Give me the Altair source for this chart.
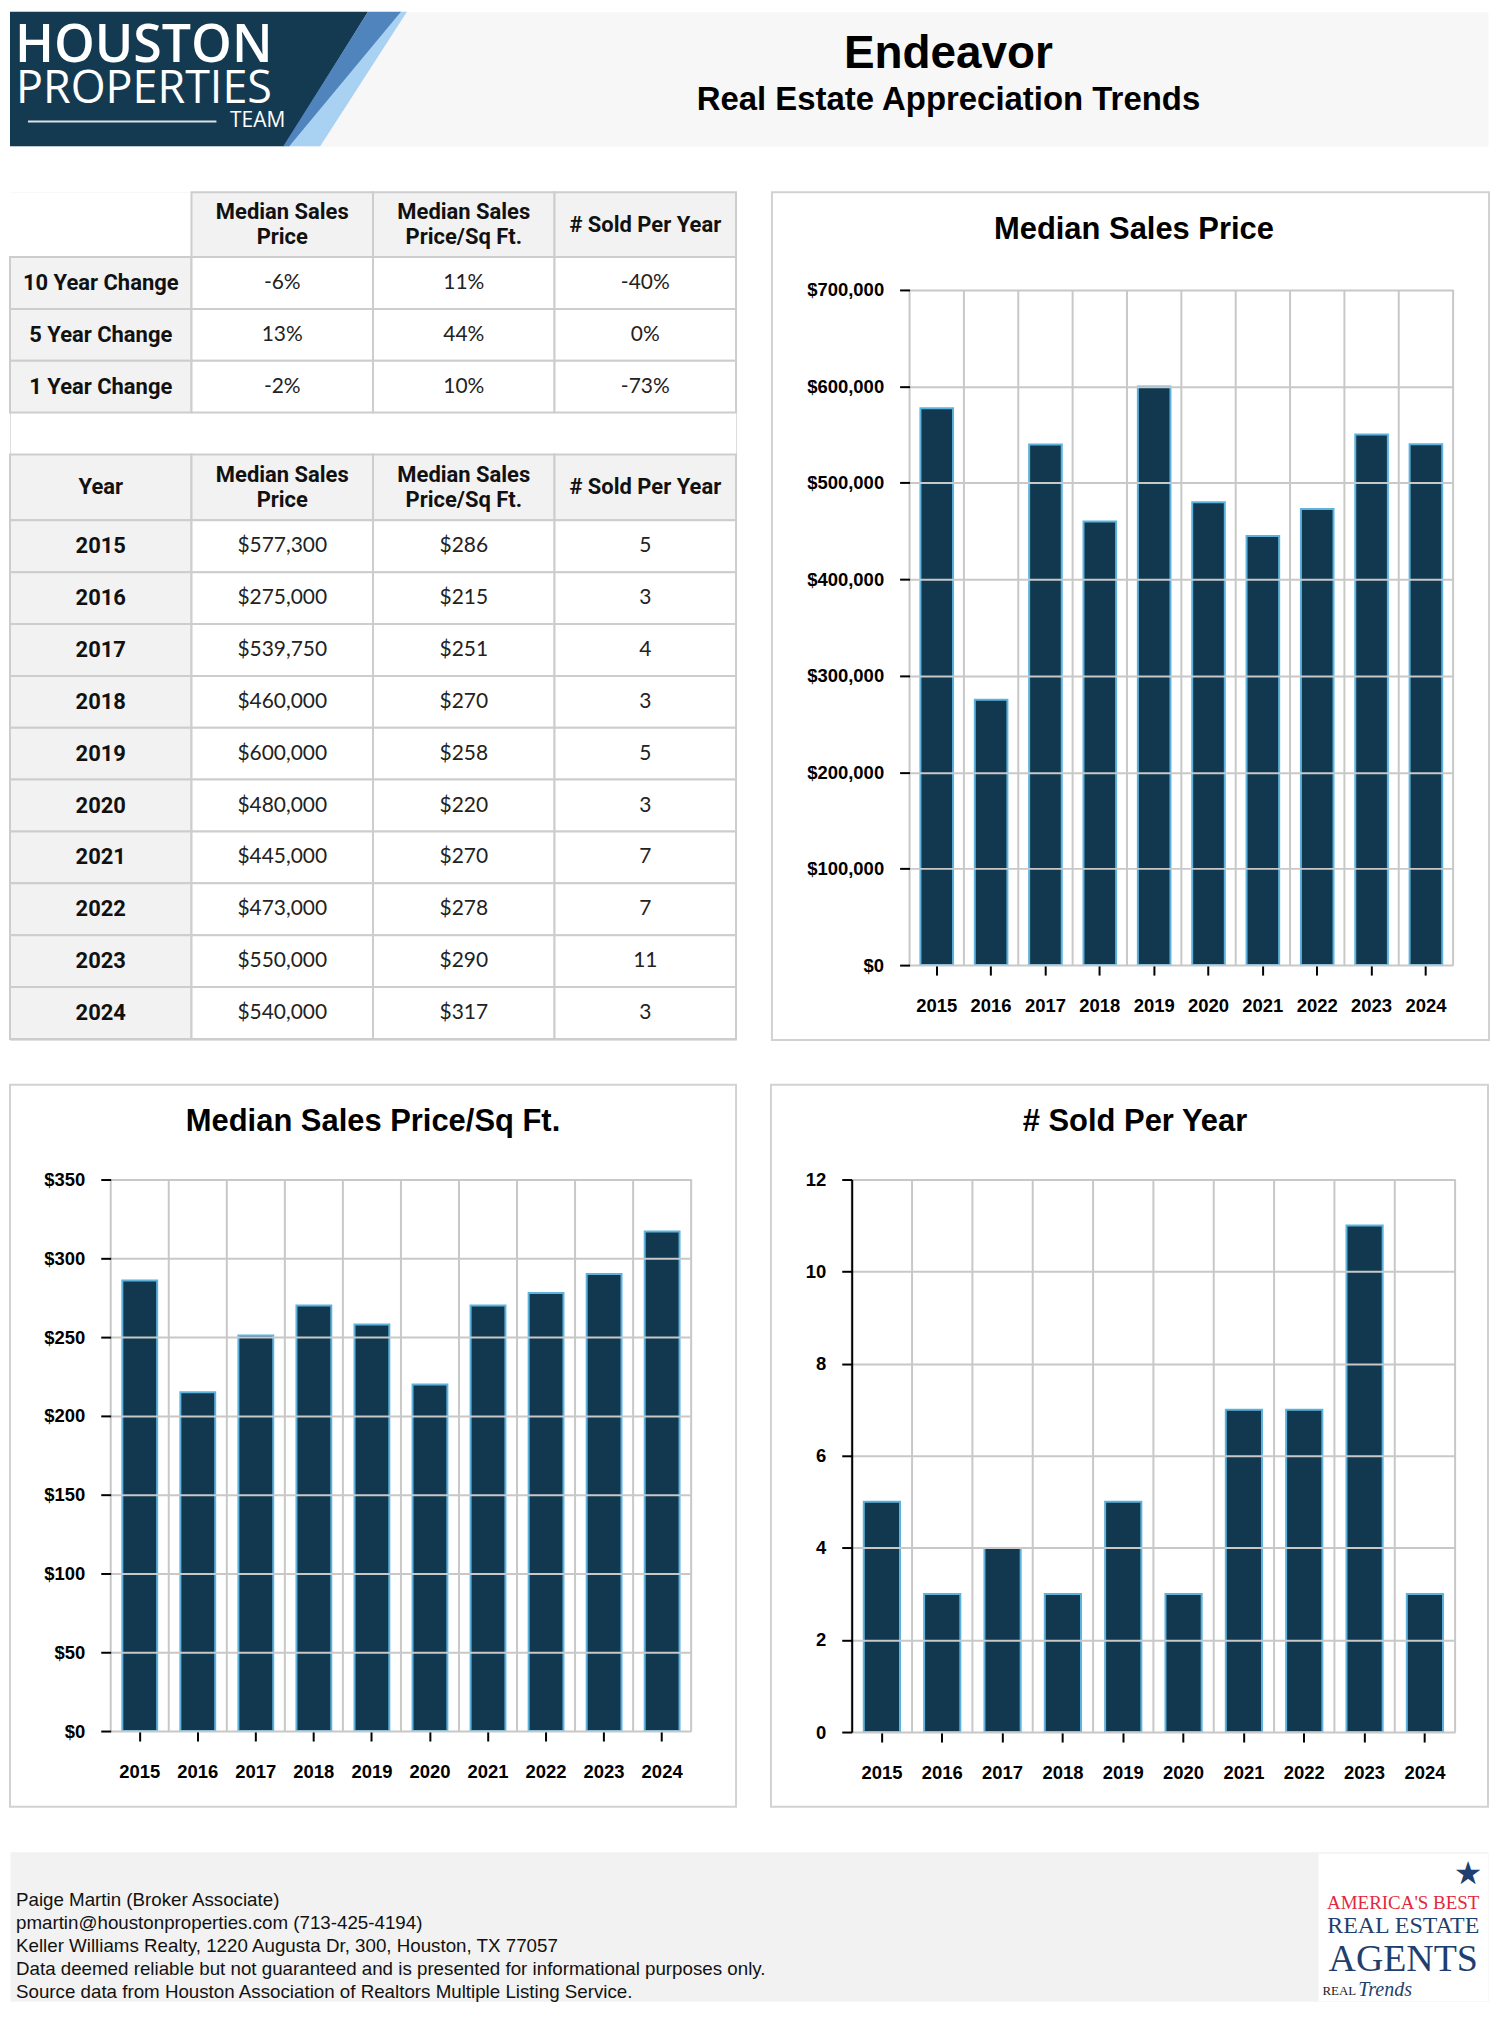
import altair as alt
import pandas as pd

# ---------------- data ----------------
years = ["2015", "2016", "2017", "2018", "2019", "2020", "2021", "2022", "2023", "2024"]
median_price = [577300, 275000, 539750, 460000, 600000, 480000, 445000, 473000, 550000, 540000]
price_per_sqft = [286, 215, 251, 270, 258, 220, 270, 278, 290, 317]
sold_per_year = [5, 3, 4, 3, 5, 3, 7, 7, 11, 3]

change_labels = ["10 Year Change", "5 Year Change", "1 Year Change"]
change_price = ["-6%", "13%", "-2%"]
change_sqft = ["11%", "44%", "10%"]
change_sold = ["-40%", "0%", "-73%"]

metric_headers = ["Median Sales\nPrice", "Median Sales\nPrice/Sq Ft.", "# Sold Per Year"]
chart_titles = ["Median Sales Price", "Median Sales Price/Sq Ft.", "# Sold Per Year"]

page_title = "Endeavor"
page_subtitle = "Real Estate Appreciation Trends"
logo_words = ["HOUSTON", "PROPERTIES", "TEAM"]
badge_words = ["AMERICA'S BEST", "REAL ESTATE", "AGENTS", "REAL", "Trends"]
footer_lines = [
    "Paige Martin (Broker Associate)",
    "pmartin@houstonproperties.com (713-425-4194)",
    "Keller Williams Realty, 1220 Augusta Dr, 300, Houston, TX 77057",
    "Data deemed reliable but not guaranteed and is presented for informational purposes only.",
    "Source data from Houston Association of Realtors Multiple Listing Service.",
]

# ---------------- style ----------------
NAVY = "#11384f"
BAR_EDGE = "#5db3dd"
GRID = "#c8c8c8"
PANEL = "#d2d2d2"
CELL = "#cdcdcd"
HEAD = "#f2f2f2"
SANS = "Liberation Sans"
W = 1482
HEADER_H = 135
FOOTER_H = 150


def one(value):
    return pd.DataFrame({"t": [value]})


# ---------------- header ----------------
logo_shape = pd.DataFrame({
    "part": ["a_navy", "a_navy", "b_light", "b_light", "c_mid", "c_mid"],
    "yy": [0, HEADER_H, 0, HEADER_H, 0, HEADER_H],
    "xa": [0, 0, 390, 275, 359, 274],
    "xb": [359, 275, 398, 311, 392, 280],
})
logo = alt.Chart(logo_shape).mark_area(orient="horizontal").encode(
    y=alt.Y("yy:Q", axis=None, scale=alt.Scale(domain=[0, HEADER_H], reverse=True, nice=False, zero=False)),
    x=alt.X("xa:Q", axis=None, scale=alt.Scale(domain=[0, W], nice=False, zero=False)),
    x2="xb:Q",
    color=alt.Color("part:N", legend=None,
                    scale=alt.Scale(domain=["a_navy", "b_light", "c_mid"],
                                    range=["#143a52", "#a9d1f2", "#4f84bd"])),
)
houston = alt.Chart(one(logo_words[0])).mark_text(
    font="Open Sans", fontSize=52, fontWeight=600, color="white", align="left", baseline="middle"
).encode(text="t:N", x=alt.value(5), y=alt.value(34))
properties_w = alt.Chart(one(logo_words[1])).mark_text(
    font="Open Sans", fontSize=45, color="white", align="left", baseline="middle"
).encode(text="t:N", x=alt.value(6), y=alt.value(78))
team = alt.Chart(one(logo_words[2])).mark_text(
    font="Open Sans", fontSize=21, color="white", align="right", baseline="middle"
).encode(text="t:N", x=alt.value(276), y=alt.value(110))
team_line = alt.Chart(one("line")).mark_rule(color="white", strokeWidth=2, opacity=0.85).encode(
    x=alt.value(18), x2=alt.value(207), y=alt.value(110))
title_txt = alt.Chart(one(page_title)).mark_text(
    font=SANS, fontSize=46, fontWeight="bold", color="#000", baseline="middle"
).encode(text="t:N", x=alt.value(941), y=alt.value(42))
subtitle_txt = alt.Chart(one(page_subtitle)).mark_text(
    font=SANS, fontSize=33, fontWeight="bold", color="#000", baseline="middle"
).encode(text="t:N", x=alt.value(941), y=alt.value(89))

header = alt.layer(logo, team_line, houston, properties_w, team, title_txt, subtitle_txt).properties(
    width=W, height=HEADER_H, view=alt.ViewBackground(fill="#f7f7f7", stroke="transparent"))

# ---------------- tables (one chart, two tables) ----------------
T1_HEAD, T2_HEAD, ROW_H, TABLE_GAP = 65, 66, 52, 42
TABLES_H = 850
LINE_H = 25


def table_records(header_cells, rows, top, head_h, blank_first):
    recs = []
    for c, txt in enumerate(header_cells):
        blank = blank_first and c == 0
        recs.append(dict(col=c, y0=top, y1=top + head_h, label=txt, bold=True,
                         nlines=txt.count("\n") + 1,
                         fill="#ffffff" if blank else HEAD,
                         edge="transparent" if blank else CELL))
    y = top + head_h
    for row in rows:
        for c, txt in enumerate(row):
            recs.append(dict(col=c, y0=y, y1=y + ROW_H, label=txt, bold=(c == 0), nlines=1,
                             fill=HEAD if c == 0 else "#ffffff", edge=CELL))
        y += ROW_H
    return recs, y


rows1 = [[change_labels[i], change_price[i], change_sqft[i], change_sold[i]] for i in range(3)]
rows2 = [[years[i], f"${median_price[i]:,}", f"${price_per_sqft[i]}", str(sold_per_year[i])]
         for i in range(len(years))]
rec1, end1 = table_records([""] + metric_headers, rows1, 0, T1_HEAD, True)
rec2, end2 = table_records(["Year"] + metric_headers, rows2, end1 + TABLE_GAP, T2_HEAD, False)
table_df = pd.DataFrame(rec1 + rec2)

COLX = alt.X("col:O", axis=None, scale=alt.Scale(paddingInner=0, paddingOuter=0))
ROWY_SCALE = alt.Scale(domain=[0, TABLES_H], range=[0, TABLES_H], nice=False, zero=False)
t_base = alt.Chart(table_df)
t_rect = t_base.mark_rect(strokeWidth=2).encode(
    x=COLX, y=alt.Y("y0:Q", axis=None, scale=ROWY_SCALE), y2="y1:Q",
    fill=alt.Fill("fill:N", scale=None), stroke=alt.Stroke("edge:N", scale=None))
t_bold = t_base.transform_filter("datum.bold").transform_calculate(
    ym=f"(datum.y0 + datum.y1) / 2 - (datum.nlines - 1) * {LINE_H} / 2").mark_text(
    font="Roboto", fontWeight="bold", fontSize=22, lineBreak="\n", lineHeight=LINE_H,
    color="#111", baseline="middle").encode(
    x=COLX, y=alt.Y("ym:Q", axis=None, scale=ROWY_SCALE), text="label:N")
t_val = t_base.transform_filter("!datum.bold").transform_calculate(
    ym="(datum.y0 + datum.y1) / 2").mark_text(
    font="Lato", fontSize=21, color="#222", baseline="middle").encode(
    x=COLX, y=alt.Y("ym:Q", axis=None, scale=ROWY_SCALE), text="label:N")
tables = alt.layer(t_rect, t_bold, t_val).properties(width=728, height=TABLES_H)


# ---------------- bar panels ----------------
def bar_panel(title, values, ymax, ystep, fmt, pw, ph, x0, x1, y0, y1, title_x, title_y, black_domain):
    """The view is the whole panel; the plot occupies x0..x1, y0..y1 inside it."""
    df = pd.DataFrame({"year": years, "value": values})
    lab = dict(labelFont=SANS, labelFontSize=18.5, labelFontWeight="bold", labelColor="#000")
    xscale = alt.Scale(range=[x0, x1], paddingInner=0, paddingOuter=0)
    x_enc = alt.X("year:O", title=None, scale=xscale,
                  axis=alt.Axis(orient="bottom", offset=-(ph - y1), grid=False, ticks=True,
                                bandPosition=0.5, tickColor="#000", tickWidth=2, tickSize=10,
                                domain=False, labelAngle=0, labelPadding=22, **lab))
    if black_domain:
        dom = dict(domain=True, domainColor="#000", domainWidth=2)
    else:
        dom = dict(domain=False)
    y_enc = alt.Y("value:Q", title=None,
                  scale=alt.Scale(domain=[0, ymax], range=[y1, y0], nice=False),
                  axis=alt.Axis(orient="left", offset=-x0, values=list(range(0, ymax + 1, ystep)),
                                format=fmt, grid=True, gridColor=GRID, gridWidth=2, ticks=True,
                                tickColor="#000", tickWidth=2, tickSize=10, labelPadding=16,
                                zindex=1, **dom, **lab))
    bars = alt.Chart(df).mark_bar(width=alt.RelativeBandSize(0.6), fill=NAVY, stroke=BAR_EDGE,
                                  strokeWidth=2).encode(x=x_enc, y=y_enc)
    vgrid = alt.Chart(df).mark_rule(color=GRID, strokeWidth=2).encode(
        x=alt.X("year:O", bandPosition=0), y=alt.value(y0), y2=alt.value(y1))
    vgrid_end = alt.Chart(one("edge")).mark_rule(color=GRID, strokeWidth=2).encode(
        x=alt.value(x1), y=alt.value(y0), y2=alt.value(y1))
    head = alt.Chart(one(title)).mark_text(font=SANS, fontSize=31, fontWeight="bold", color="#000",
                                           baseline="middle").encode(
        text="t:N", x=alt.value(title_x), y=alt.value(title_y))
    return alt.layer(bars, vgrid, vgrid_end, head).properties(
        width=pw, height=ph, view=alt.ViewBackground(stroke=PANEL, strokeWidth=2))


chart1 = bar_panel(chart_titles[0], median_price, 700000, 100000, "$,.0f",
                   719, 850, 138, 683, 98, 775, 363, 38, False)
chart2 = bar_panel(chart_titles[1], price_per_sqft, 350, 50, "$,.0f",
                   728, 724, 101, 683, 95, 648, 364, 37, False)
chart3 = bar_panel(chart_titles[2], sold_per_year, 12, 2, "d",
                   719, 724, 81, 686, 95, 649, 365, 37, True)

# ---------------- footer ----------------
foot_df = pd.DataFrame({"i": list(range(len(footer_lines))), "line": footer_lines})
foot_text = alt.Chart(foot_df).mark_text(font=SANS, fontSize=18.8, color="#111", align="left",
                                         baseline="middle").encode(
    text="line:N", x=alt.value(6),
    y=alt.Y("i:O", axis=None, scale=alt.Scale(type="point", range=[48, 141], padding=0)))
badge_box = alt.Chart(one("box")).mark_rect(fill="#ffffff").encode(
    x=alt.value(1312), x2=alt.value(W), y=alt.value(2), y2=alt.value(FOOTER_H))
star = alt.Chart(one("\u2605")).mark_text(font="DejaVu Sans", fontSize=32, color="#1f3f70",
                                          baseline="middle").encode(
    text="t:N", x=alt.value(1462), y=alt.value(22))
b1 = alt.Chart(one(badge_words[0])).mark_text(font="Liberation Serif", fontSize=19, color="#e2283e",
                                              baseline="middle").encode(
    text="t:N", x=alt.value(1397), y=alt.value(51))
b2 = alt.Chart(one(badge_words[1])).mark_text(font="Liberation Serif", fontSize=24, color="#1f3f6e",
                                              baseline="middle").encode(
    text="t:N", x=alt.value(1397), y=alt.value(75))
b3 = alt.Chart(one(badge_words[2])).mark_text(font="Liberation Serif", fontSize=38, color="#1f3f6e",
                                              baseline="middle").encode(
    text="t:N", x=alt.value(1397), y=alt.value(109))
b4 = alt.Chart(one(badge_words[3])).mark_text(font="Liberation Serif", fontSize=13, color="#222",
                                              align="left", baseline="middle").encode(
    text="t:N", x=alt.value(1316), y=alt.value(140))
b5 = alt.Chart(one(badge_words[4])).mark_text(font="Liberation Serif", fontSize=20, fontStyle="italic",
                                              color="#1f3f6e", align="left", baseline="middle").encode(
    text="t:N", x=alt.value(1352), y=alt.value(139))
footer = alt.layer(foot_text, badge_box, star, b1, b2, b3, b4, b5).properties(
    width=W, height=FOOTER_H, view=alt.ViewBackground(fill=HEAD, stroke="transparent"))

# ---------------- page ----------------
row_b = alt.hconcat(tables, chart1, spacing=33)
row_c = alt.hconcat(chart2, chart3, spacing=33)
chart = alt.vconcat(header, row_b, row_c, footer, spacing=43).properties(padding=0).configure_view(
    stroke="transparent").configure(background="#ffffff")

chart.save("out.html", embed_options={"renderer": "svg", "actions": False})
